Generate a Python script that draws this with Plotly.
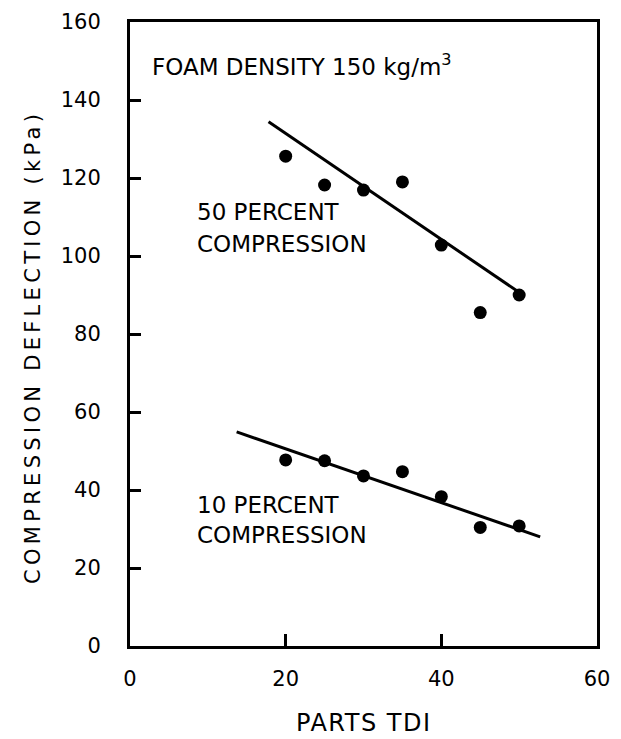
import plotly.graph_objects as go

# Parts TDI
parts_tdi = [20, 25, 30, 35, 40, 45, 50]
# Compression deflection (kPa)
cd_50 = [125.6, 118.2, 116.9, 119.0, 102.8, 85.5, 90.0]
cd_10 = [47.7, 47.5, 43.6, 44.7, 38.3, 30.4, 30.8]
# Hand-drawn trend lines (endpoints)
fit50_x = [17.8, 50.5]
fit50_y = [134.4, 90.0]
fit10_x = [13.7, 52.7]
fit10_y = [54.9, 28.0]

x_ticks = [0, 20, 40, 60]
y_ticks = [0, 20, 40, 60, 80, 100, 120, 140, 160]

FONT = "DejaVu Sans"
fig = go.Figure()
fig.add_trace(go.Scatter(x=fit50_x, y=fit50_y, mode="lines",
                         line=dict(color="black", width=3), showlegend=False))
fig.add_trace(go.Scatter(x=fit10_x, y=fit10_y, mode="lines",
                         line=dict(color="black", width=3), showlegend=False))
fig.add_trace(go.Scatter(x=parts_tdi, y=cd_50, mode="markers",
                         marker=dict(color="black", size=13), showlegend=False))
fig.add_trace(go.Scatter(x=parts_tdi, y=cd_10, mode="markers",
                         marker=dict(color="black", size=13), showlegend=False))

ann = [
    dict(x=2.57, y=149, text="FOAM DENSITY 150 kg/m<sup>3</sup>", font_size=23),
    dict(x=8.35, y=111.3, text="50 PERCENT", font_size=23),
    dict(x=8.35, y=103.1, text="COMPRESSION", font_size=23),
    dict(x=8.35, y=36.2, text="10 PERCENT", font_size=23),
    dict(x=8.35, y=28.5, text="COMPRESSION", font_size=23),
]
annotations = [dict(xref="x", yref="y", x=a["x"], y=a["y"], text=a["text"],
                    showarrow=False, xanchor="left", yanchor="middle",
                    font=dict(family=FONT, size=a["font_size"], color="black"))
               for a in ann]
annotations.append(dict(xref="paper", yref="paper", x=0, y=0.5,
                        xshift=-97, yshift=-13, showarrow=False, textangle=-90,
                        xanchor="center", yanchor="middle",
                        text='<span style="letter-spacing:4.3px">COMPRESSION DEFLECTION (kPa)</span>',
                        font=dict(family=FONT, size=21, color="black")))
annotations.append(dict(xref="paper", yref="paper", x=0.5, y=0,
                        yshift=-77, showarrow=False,
                        xanchor="center", yanchor="middle",
                        text='<span style="letter-spacing:1.5px">PARTS TDI</span>',
                        font=dict(family=FONT, size=24, color="black")))

fig.update_layout(
    width=621, height=739,
    margin=dict(l=130, r=24, t=22, b=93),
    paper_bgcolor="white", plot_bgcolor="white",
    font=dict(family=FONT, size=21, color="black"),
    annotations=annotations,
    xaxis=dict(range=[0, 60], tickvals=x_ticks, ticktext=[str(v) for v in x_ticks],
               ticks="inside", ticklen=12, tickwidth=2.5, tickcolor="black",
               showline=True, linewidth=3, linecolor="black", mirror=True,
               showgrid=False, zeroline=False, ticklabelstandoff=12,
               automargin=False),
    yaxis=dict(range=[0, 160], tickvals=y_ticks, ticktext=[str(v) for v in y_ticks],
               ticks="inside", ticklen=11, tickwidth=2.5, tickcolor="black",
               showline=True, linewidth=3, linecolor="black", mirror=True,
               showgrid=False, zeroline=False, ticklabelstandoff=22,
               automargin=False),
)
fig.write_html("out.html")
